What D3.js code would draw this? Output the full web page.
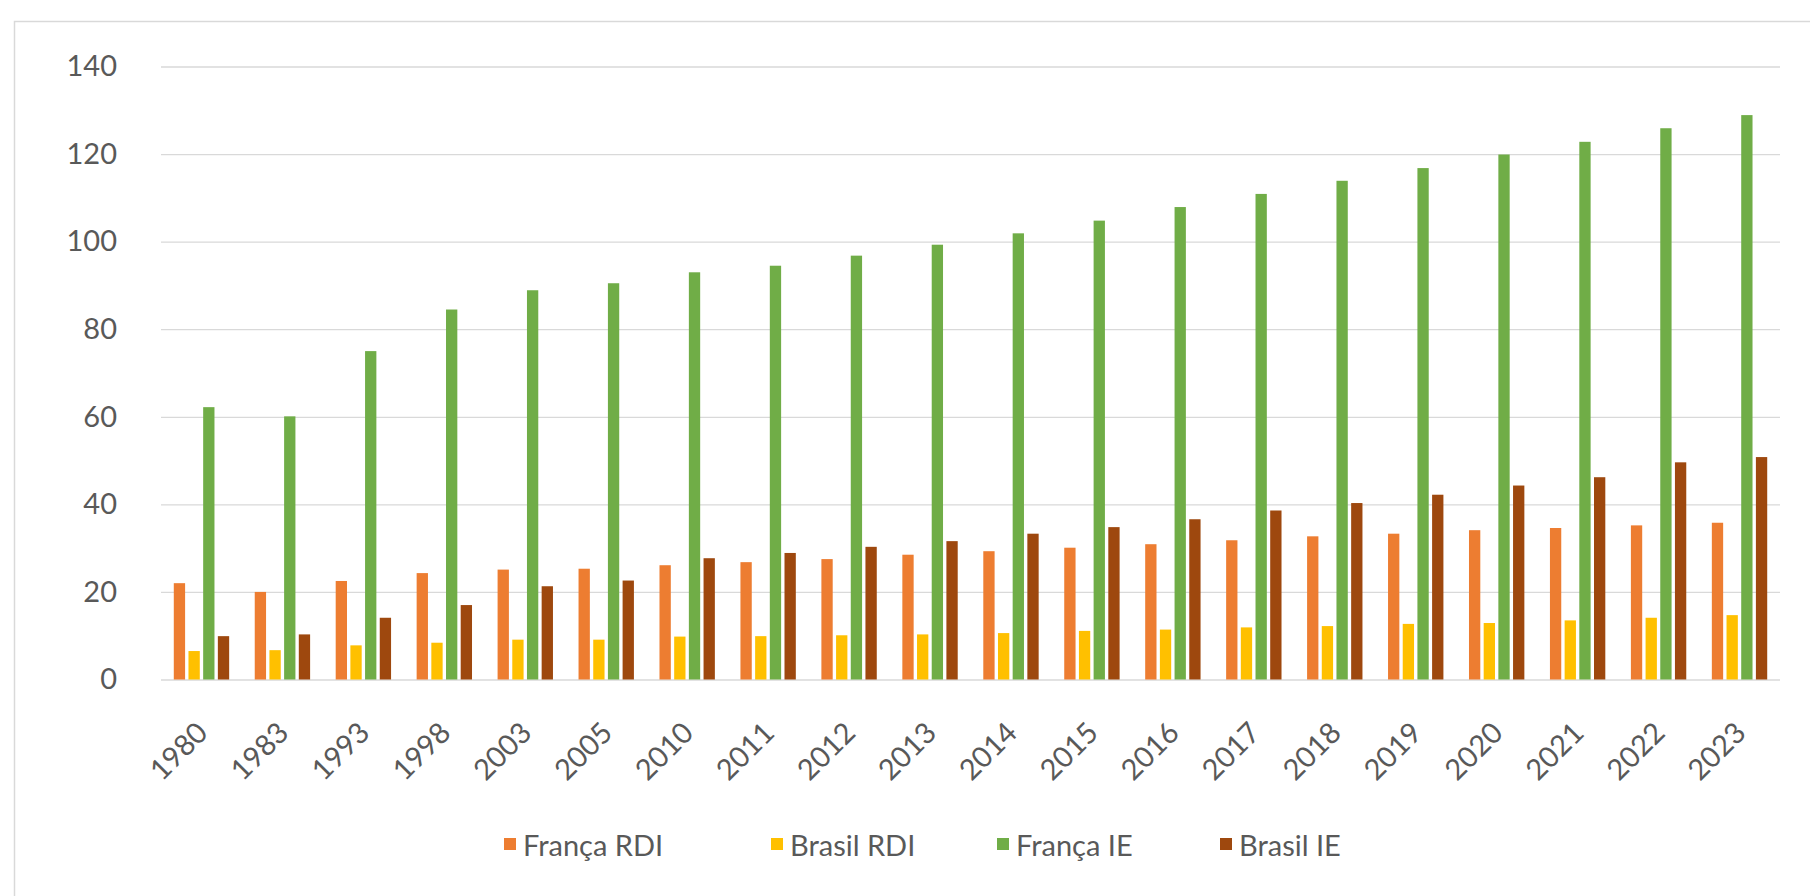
<!DOCTYPE html>
<html>
<head>
<meta charset="utf-8">
<script src="https://cdn.jsdelivr.net/npm/d3@7"></script>
<style>
  body { margin: 0; background: #ffffff; }
  svg { display: block; }
  text { font-family: Lato, "Open Sans", sans-serif; }
</style>
</head>
<body>
<svg id="chart" width="1810" height="896"></svg>
<script>
// ---- data ----
const categories = ["1980","1983","1993","1998","2003","2005","2010","2011","2012","2013",
                    "2014","2015","2016","2017","2018","2019","2020","2021","2022","2023"];
const seriesNames = ["França RDI", "Brasil RDI", "França IE", "Brasil IE"];
const francaRDI = [22, 20, 22.5, 24.3, 25.1, 25.3, 26.1, 26.8, 27.5, 28.5,
                   29.3, 30.1, 30.9, 31.8, 32.7, 33.3, 34.1, 34.6, 35.2, 35.8];
const brasilRDI = [6.5, 6.7, 7.8, 8.4, 9.1, 9.1, 9.8, 9.9, 10.1, 10.3,
                   10.6, 11.1, 11.4, 11.9, 12.2, 12.7, 12.9, 13.5, 14.1, 14.7];
const francaIE  = [62.2, 60.1, 75, 84.5, 88.9, 90.5, 93, 94.5, 96.8, 99.3,
                   101.9, 104.8, 107.9, 110.9, 113.9, 116.8, 119.9, 122.8, 125.9, 128.9];
const brasilIE  = [9.9, 10.3, 14.1, 17, 21.3, 22.6, 27.7, 28.9, 30.3, 31.6,
                   33.3, 34.8, 36.6, 38.6, 40.3, 42.2, 44.3, 46.2, 49.6, 50.8];
const yTicks = [0, 20, 40, 60, 80, 100, 120, 140];
const colors = ["#ED7D31", "#FFC000", "#70AD47", "#9E480E"];

const seriesValues = [francaRDI, brasilRDI, francaIE, brasilIE];

// ---- layout ----
const W = 1810, H = 896;
const plotLeft = 161, plotRight = 1780, plotTop = 66.5, plotBottom = 679.5;
const fontSize = 29;
const textColor = "#595959";
const gridColor = "#d9d9d9";
const legendSlots = [504, 771, 997, 1220];   // legend entry left edges (layout)
const legendY = 844;

const svg = d3.select("#chart");

// outer chart border
svg.append("rect")
  .attr("x", 14.5).attr("y", 21.5)
  .attr("width", W + 10).attr("height", H + 10)
  .attr("fill", "#ffffff")
  .attr("stroke", "#d9d9d9").attr("stroke-width", 1.5);

const x0 = d3.scaleBand().domain(categories).range([plotLeft, plotRight])
  .paddingInner(0.316).paddingOuter(0.158);
const x1 = d3.scaleBand().domain(seriesNames).range([0, x0.bandwidth()])
  .paddingInner(0.23);
const y = d3.scaleLinear().domain([0, 140]).range([plotBottom, plotTop]);

// y axis + gridlines
const yAxis = svg.append("g")
  .attr("transform", `translate(${plotLeft},0)`)
  .call(d3.axisLeft(y).tickValues(yTicks).tickSize(-(plotRight - plotLeft)).tickPadding(44));
yAxis.select(".domain").remove();
yAxis.selectAll(".tick line").attr("stroke", gridColor).attr("stroke-width", 1.3);
yAxis.selectAll(".tick text")
  .attr("fill", textColor).style("font-size", fontSize + "px")
  .style("font-family", "Lato, sans-serif");

// bars
const rows = categories.map((c, i) => ({
  cat: c,
  vals: seriesNames.map((s, k) => ({ key: s, value: seriesValues[k][i], color: colors[k] }))
}));

const groups = svg.append("g").selectAll("g")
  .data(rows).join("g")
  .attr("transform", d => `translate(${x0(d.cat)},0)`);

groups.selectAll("rect")
  .data(d => d.vals).join("rect")
  .attr("x", d => x1(d.key))
  .attr("width", x1.bandwidth())
  .attr("y", d => y(d.value))
  .attr("height", d => y(0) - y(d.value))
  .attr("fill", d => d.color);

// x axis
const xAxis = svg.append("g")
  .attr("transform", `translate(0,${plotBottom})`)
  .call(d3.axisBottom(x0).tickSize(0));
xAxis.select(".domain").remove();
xAxis.selectAll(".tick text")
  .attr("x", 0).attr("y", 0).attr("dy", 0)
  .attr("text-anchor", "end")
  .attr("transform", "translate(8,55) rotate(-45)")
  .attr("fill", textColor).style("font-size", fontSize + "px")
  .style("font-family", "Lato, sans-serif");

// legend
const legend = svg.append("g");
const items = legend.selectAll("g").data(seriesNames).join("g")
  .attr("transform", (d, i) => `translate(${legendSlots[i]},${legendY})`);
items.append("rect")
  .attr("width", 12).attr("height", 12)
  .attr("y", -6)
  .attr("fill", (d, i) => colors[i]);
items.append("text")
  .attr("x", 19).attr("y", 0)
  .attr("dominant-baseline", "central")
  .attr("fill", textColor).style("font-size", fontSize + "px")
  .text(d => d);
</script>
</body>
</html>
